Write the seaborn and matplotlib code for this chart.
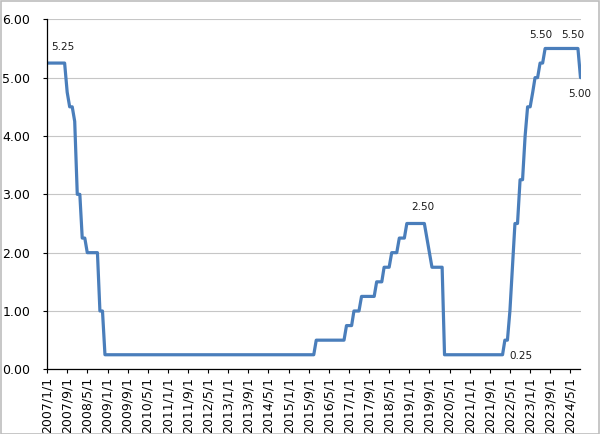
import matplotlib
matplotlib.use("Agg")
import matplotlib.pyplot as plt
import matplotlib.patches as mpatches
import seaborn as sns
import pandas as pd

# ---- data: monthly upper-bound policy rate (%), 2007/1 .. 2024/9 ----
rates_2007 = [5.25, 5.25, 5.25, 5.25, 5.25, 5.25, 5.25, 5.25, 4.75, 4.50, 4.50, 4.25]
rates_2008 = [3.00, 3.00, 2.25, 2.25, 2.00, 2.00, 2.00, 2.00, 2.00, 1.00, 1.00, 0.25]
rates_2009 = [0.25, 0.25, 0.25, 0.25, 0.25, 0.25, 0.25, 0.25, 0.25, 0.25, 0.25, 0.25]
rates_2010 = [0.25, 0.25, 0.25, 0.25, 0.25, 0.25, 0.25, 0.25, 0.25, 0.25, 0.25, 0.25]
rates_2011 = [0.25, 0.25, 0.25, 0.25, 0.25, 0.25, 0.25, 0.25, 0.25, 0.25, 0.25, 0.25]
rates_2012 = [0.25, 0.25, 0.25, 0.25, 0.25, 0.25, 0.25, 0.25, 0.25, 0.25, 0.25, 0.25]
rates_2013 = [0.25, 0.25, 0.25, 0.25, 0.25, 0.25, 0.25, 0.25, 0.25, 0.25, 0.25, 0.25]
rates_2014 = [0.25, 0.25, 0.25, 0.25, 0.25, 0.25, 0.25, 0.25, 0.25, 0.25, 0.25, 0.25]
rates_2015 = [0.25, 0.25, 0.25, 0.25, 0.25, 0.25, 0.25, 0.25, 0.25, 0.25, 0.25, 0.50]
rates_2016 = [0.50, 0.50, 0.50, 0.50, 0.50, 0.50, 0.50, 0.50, 0.50, 0.50, 0.50, 0.75]
rates_2017 = [0.75, 0.75, 1.00, 1.00, 1.00, 1.25, 1.25, 1.25, 1.25, 1.25, 1.25, 1.50]
rates_2018 = [1.50, 1.50, 1.75, 1.75, 1.75, 2.00, 2.00, 2.00, 2.25, 2.25, 2.25, 2.50]
rates_2019 = [2.50, 2.50, 2.50, 2.50, 2.50, 2.50, 2.50, 2.25, 2.00, 1.75, 1.75, 1.75]
rates_2020 = [1.75, 1.75, 0.25, 0.25, 0.25, 0.25, 0.25, 0.25, 0.25, 0.25, 0.25, 0.25]
rates_2021 = [0.25, 0.25, 0.25, 0.25, 0.25, 0.25, 0.25, 0.25, 0.25, 0.25, 0.25, 0.25]
rates_2022 = [0.25, 0.25, 0.50, 0.50, 1.00, 1.75, 2.50, 2.50, 3.25, 3.25, 4.00, 4.50]
rates_2023 = [4.50, 4.75, 5.00, 5.00, 5.25, 5.25, 5.50, 5.50, 5.50, 5.50, 5.50, 5.50]
rates_2024 = [5.50, 5.50, 5.50, 5.50, 5.50, 5.50, 5.50, 5.50, 5.00]

start_month = "2007-01-01"

tick_labels = ["2007/1/1", "2007/9/1", "2008/5/1", "2009/1/1", "2009/9/1",
               "2010/5/1", "2011/1/1", "2011/9/1", "2012/5/1", "2013/1/1",
               "2013/9/1", "2014/5/1", "2015/1/1", "2015/9/1", "2016/5/1",
               "2017/1/1", "2017/9/1", "2018/5/1", "2019/1/1", "2019/9/1",
               "2020/5/1", "2021/1/1", "2021/9/1", "2022/5/1", "2023/1/1",
               "2023/9/1", "2024/5/1"]

y_ticks = [0, 1, 2, 3, 4, 5, 6]

# labelled points (date of the point)
label_dates = ["2007/8/1", "2019/7/1", "2022/2/1", "2023/7/1", "2024/8/1", "2024/9/1"]

# ---- styling (offsets in pixels, alignment) ----
label_style = [(-1.5, 16, "center"), (-1.5, 16, "center"), (7, -1, "left"),
               (-4.5, 13.5, "center"), (-5.5, 13, "center"), (-1, -16, "center")]

rates = (rates_2007 + rates_2008 + rates_2009 + rates_2010 + rates_2011 +
         rates_2012 + rates_2013 + rates_2014 + rates_2015 + rates_2016 +
         rates_2017 + rates_2018 + rates_2019 + rates_2020 + rates_2021 +
         rates_2022 + rates_2023 + rates_2024)
dates = pd.date_range(start_month, periods=len(rates), freq="MS")
df = pd.DataFrame({"date": dates, "rate": rates})

sns.set_style("white")
plt.rcParams["font.family"] = ["DejaVu Sans"]

fig = plt.figure(figsize=(6.0, 4.34), dpi=100)
ax = fig.add_axes([0.0785, 0.149, 0.889, 0.8065])

line_color = "#4A7EBB"
sns.lineplot(data=df, x="date", y="rate", color=line_color, linewidth=2.3, ax=ax)

ax.set_xlim(dates[0], dates[-1])
ax.set_ylim(0, 6)

ax.set_yticks(y_ticks)
ax.set_yticklabels([f"{v:.2f}" for v in y_ticks], fontsize=9)
tick_pos = pd.to_datetime(tick_labels, format="%Y/%m/%d")
ax.set_xticks(tick_pos)
ax.set_xticklabels(tick_labels, rotation=90, fontsize=9)

ax.grid(axis="y", color="#c6c6c6", linewidth=0.8)
ax.grid(axis="x", visible=False)
ax.set_axisbelow(True)

for s in ["top", "right"]:
    ax.spines[s].set_visible(False)
for s in ["left", "bottom"]:
    ax.spines[s].set_color("#000000")
    ax.spines[s].set_linewidth(0.9)

ax.tick_params(axis="y", which="major", direction="out", length=3, width=0.8,
               color="#000000", pad=9, left=True, labelcolor="#000000")
ax.tick_params(axis="x", which="major", direction="out", length=3, width=0.8,
               color="#000000", pad=2.5, bottom=True, labelcolor="#000000")
ax.set_xlabel("")
ax.set_ylabel("")

series = df.set_index("date")["rate"]
for d, (dx, dy, ha) in zip(label_dates, label_style):
    dt = pd.to_datetime(d, format="%Y/%m/%d")
    val = series.loc[dt]
    ax.annotate(f"{val:.2f}", xy=(dt, val), xytext=(dx, dy),
                textcoords="offset pixels", ha=ha, va="center",
                fontsize=7.5, color="#1a1a1a", annotation_clip=False)

fig.patches.append(mpatches.Rectangle((0.001, 0.001), 0.998, 0.997,
                                      transform=fig.transFigure, fill=False,
                                      edgecolor="#bdbdbd", linewidth=1.2))

fig.savefig("out.png", dpi=100)
